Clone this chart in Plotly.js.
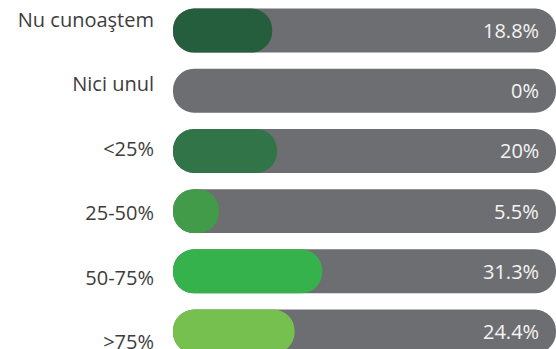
<!DOCTYPE html>
<html>
<head>
<meta charset="utf-8">
<script src="https://cdn.plot.ly/plotly-3.0.1.min.js"></script>
<style>html,body{margin:0;padding:0;background:#fff;}#chart{width:556px;height:349px;}</style>
</head>
<body>
<div id="chart"></div>
<script>
// ---- data ----
const categories = ["Nu cunoaştem", "Nici unul", "<25%", "25-50%", "50-75%", ">75%"];
const values = [18.8, 0, 20, 5.5, 31.3, 24.4];
const valueLabels = ["18.8%", "0%", "20%", "5.5%", "31.3%", "24.4%"];
const fillColors = ["#255e3c", "#6d6e71", "#307447", "#419b48", "#36b24c", "#76c050"];

// ---- style / geometry constants ----
const START = -6.0;      // left cap allowance (axis units)
const TRACK_END = 89.75; // right end of grey track
const TRACK_COLOR = "#6d6e71";
const RADIUS = 22;
const BARW = 0.73;
const FONT = "'Open Sans', sans-serif";

const track = {
  type: "bar", orientation: "h", y: categories, width: BARW,
  base: categories.map(() => START),
  x: categories.map(() => TRACK_END - START),
  marker: {color: TRACK_COLOR, cornerradius: RADIUS, line: {width: 0}},
  hoverinfo: "skip", showlegend: false
};

const fill = {
  type: "bar", orientation: "h", y: categories, width: BARW,
  base: values.map(() => START),
  x: values.map(v => v > 0 ? v - START : 0),
  marker: {color: fillColors, cornerradius: RADIUS, line: {width: 0}},
  hoverinfo: "skip", showlegend: false
};

// invisible trace to carry category labels on the label axis
const labelCarrier = {
  type: "scatter", mode: "markers", x: values, y: categories, yaxis: "y2",
  marker: {opacity: 0, size: 1}, hoverinfo: "skip", showlegend: false
};

const annotations = categories.map((c, i) => ({
  xref: "x", yref: "y", x: TRACK_END, y: c, xanchor: "right", yanchor: "middle",
  xshift: -15, showarrow: false, text: valueLabels[i],
  font: {family: FONT, size: 20, color: "#f4f4f4"}
}));

const layout = {
  width: 556, height: 349,
  margin: {l: 173, r: 0, t: 0, b: 0, pad: 0},
  paper_bgcolor: "#ffffff", plot_bgcolor: "#ffffff",
  barmode: "overlay", showlegend: false,
  xaxis: {range: [START, TRACK_END], visible: false, fixedrange: true},
  yaxis: {
    type: "category", categoryorder: "array", categoryarray: categories,
    range: [5.29, -0.507], showticklabels: false, showgrid: false, zeroline: false,
    showline: false, ticks: "", fixedrange: true
  },
  yaxis2: {
    type: "category", categoryorder: "array", categoryarray: categories,
    overlaying: "y", side: "left", anchor: "x",
    range: [5.11, -0.31], showgrid: false, zeroline: false, showline: false,
    ticks: "", ticklabelstandoff: 18, fixedrange: true,
    tickfont: {family: FONT, size: 20, color: "#3d3d3d"}
  },
  annotations: annotations
};

Plotly.newPlot("chart", [track, fill, labelCarrier], layout,
  {staticPlot: true, displayModeBar: false});
</script>
</body>
</html>
